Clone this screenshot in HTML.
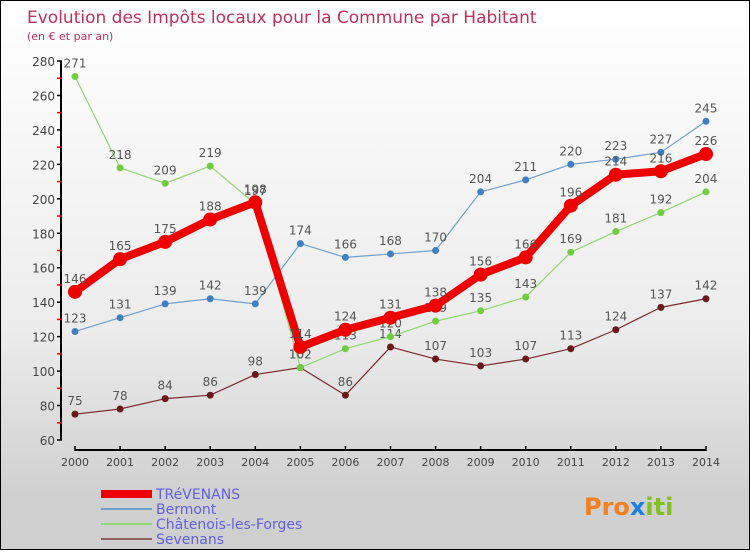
<!DOCTYPE html>
<html><head><meta charset="utf-8"><style>
body{margin:0;width:750px;height:550px;overflow:hidden;font-family:"DejaVu Sans","Liberation Sans",sans-serif;}
#wrap{position:relative;width:748px;height:548px;border:1px solid #000;background:linear-gradient(#fff 0%,#ececec 60%,#d0d0d0 90%,#cfcfcf 100%);}
</style></head><body>
<div id="wrap">
<svg id="svg" width="748" height="548" xmlns="http://www.w3.org/2000/svg">
<text x="26" y="22" font-size="17" fill="#c0305a" font-family="DejaVu Sans, sans-serif">Evolution des Impôts locaux pour la Commune par Habitant</text>
<text x="26" y="39" font-size="11" fill="#c0305a">(en € et par an)</text>
<g id="axes"></g><g id="series"></g>
<g id="legend" font-size="14" fill="#6060e0"></g>
<text x="583" y="514" font-size="24" font-weight="bold" fill="#f08020">Pro<tspan fill="#2080e0">x</tspan><tspan fill="#80c020">iti</tspan></text>
</svg></div>
<script>
const years=[2000,2001,2002,2003,2004,2005,2006,2007,2008,2009,2010,2011,2012,2013,2014];
const trevenans=[146,165,175,188,198,114,124,131,138,156,166,196,214,216,226];
const bermont=[123,131,139,142,139,174,166,168,170,204,211,220,223,227,245];
const chatenois=[271,218,209,219,197,102,113,120,129,135,143,169,181,192,204];
const sevenans=[75,78,84,86,98,102,86,114,107,103,107,113,124,137,142];
const yTicks=[60,80,100,120,140,160,180,200,220,240,260,280];
const NS="http://www.w3.org/2000/svg";
const X=i=>74+i*45.07, Y=v=>439-(v-60)*1.7227;
function mk(p,t,a){const e=document.createElementNS(NS,t);for(const k in a)e.setAttribute(k,a[k]);p.appendChild(e);return e;}
const ax=document.getElementById('axes');
let l=mk(ax,'line',{x1:60,y1:Y(280),x2:60,y2:Y(60),stroke:'#000','stroke-width':2});


yTicks.forEach(v=>{mk(ax,'line',{x1:56,y1:Y(v),x2:61,y2:Y(v),stroke:'#000','stroke-width':1.5});
 if(v<280)mk(ax,'line',{x1:56,y1:Y(v+10),x2:61,y2:Y(v+10),stroke:'#e00','stroke-width':1.5});
 const t=mk(ax,'text',{x:54,y:Y(v)+5,'text-anchor':'end','font-size':12,fill:'#444'});t.textContent=v;
 
 });
l=mk(ax,'line',{x1:X(0),y1:449,x2:X(14),y2:449,stroke:'#000','stroke-width':2});


years.forEach((y,i)=>{mk(ax,'line',{x1:X(i),y1:445,x2:X(i),y2:450,stroke:'#000','stroke-width':1.5});
 const t=mk(ax,'text',{x:X(i),y:465,'text-anchor':'middle','font-size':11,fill:'#444'});t.textContent=y;
 
 });
const S=document.getElementById('series');
function draw(name,d,c,w,r,dot){const g=mk(S,'g',{});
 
 
 mk(g,'polyline',{points:d.map((v,i)=>X(i)+','+Y(v)).join(' '),fill:'none',stroke:c,'stroke-width':w,'stroke-linejoin':'round'});
 d.forEach((v,i)=>{const p=mk(g,'circle',{cx:X(i),cy:Y(v),r:r,fill:dot});
  
  
  const t=mk(g,'text',{x:X(i),y:Y(v)-9,'text-anchor':'middle','font-size':12,fill:'#555'});t.textContent=v;
  
  });}
draw('sevenans',sevenans,'#7a2a2a',1.2,3.5,'#6a1a1a');
draw('chatenois',chatenois,'#90d870',1.2,3.5,'#70cc40');
draw('bermont',bermont,'#70a0cc',1.2,3.5,'#4080c0');
draw('trevenans',trevenans,'#ee0000',8,7,'#ee0000');
const L=document.getElementById('legend');
[['TRéVENANS','#ee0000',8],['Bermont','#70a0cc',2],['Châtenois-les-Forges','#90d870',2],['Sevenans','#906060',2]].forEach((e,i)=>{
 const y=493+i*15;const g=mk(L,'g',{});
 
 
 mk(g,'line',{x1:100,y1:y,x2:151,y2:y,stroke:e[1],'stroke-width':e[2]});
 const t=mk(g,'text',{x:155,y:y+5});t.textContent=e[0];});
</script></body></html>
